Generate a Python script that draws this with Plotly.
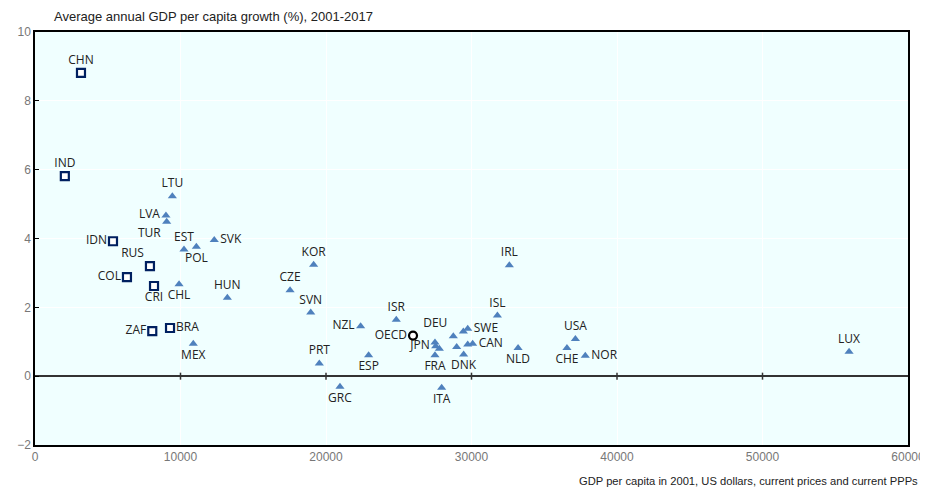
import plotly.graph_objects as go

# Emerging economies (squares)
emg_codes = ["CHN", "IND", "IDN", "RUS", "COL", "CRI", "ZAF", "BRA"]
emg_gdp = [3160, 2050, 5360, 7900, 6320, 8180, 8060, 9280]
emg_growth = [8.81, 5.81, 3.92, 3.20, 2.88, 2.62, 1.31, 1.40]
emg_pos = ["top center", "top center", "middle left", "top left", "middle left",
           "bottom center", "middle left", "middle right"]

# OECD countries (triangles)
oecd_codes = ["LTU", "LVA", "TUR", "EST", "POL", "SVK", "CHL", "HUN", "MEX",
              "KOR", "CZE", "SVN", "NZL", "ISR", "PRT", "ESP", "GRC", "ITA",
              "DEU", "AUS", "SWE", "GBR", "JPN", "FIN", "FRA", "BEL", "DNK",
              "AUT", "CAN", "NLD", "IRL", "ISL", "CHE", "USA", "NOR", "LUX"]
oecd_gdp = [9440, 9000, 9050, 10240, 11090, 12320, 9900, 13220, 10880,
            19150, 17530, 18950, 22380, 24830, 19540, 22930, 20960, 27950,
            28750, 29440, 29740, 27490, 27540, 27790, 27490, 28980, 29460,
            29740, 30080, 33200, 32600, 31780, 36560, 37140, 37820, 55950]
oecd_growth = [5.23, 4.67, 4.49, 3.68, 3.76, 3.96, 2.67, 2.28, 0.94,
               3.24, 2.50, 1.85, 1.45, 1.64, 0.37, 0.61, -0.31, -0.34,
               1.16, 1.30, 1.38, 0.98, 0.87, 0.80, 0.61, 0.85, 0.63,
               0.92, 0.94, 0.82, 3.22, 1.76, 0.82, 1.08, 0.59, 0.71]
oecd_labels = ["LTU", "LVA", "TUR", "EST", "POL", "SVK", "CHL", "HUN", "MEX",
               "KOR", "CZE", "SVN", "NZL", "ISR", "PRT", "ESP", "GRC", "ITA",
               "DEU", "", "SWE", "", "JPN", "", "FRA", "", "DNK",
               "", "CAN", "NLD", "IRL", "ISL", "CHE", "USA", "NOR", "LUX"]
oecd_pos = ["top center", "middle left", "bottom left", "top center", "bottom center",
            "middle right", "bottom center", "top center", "bottom center",
            "top center", "top center", "top center", "middle left", "top center",
            "top center", "bottom center", "bottom center", "bottom center",
            "top left", "top center", "middle right", "top center", "middle left",
            "top center", "bottom center", "top center", "bottom center",
            "top center", "middle right", "bottom center", "top center", "top center",
            "bottom center", "top center", "middle right", "top center"]

# OECD average (circle)
avg_label = ["OECD"]
avg_gdp = [25980]
avg_growth = [1.18]

# x-axis tick positions (also marked on the zero line)
x_ticks = [0, 10000, 20000, 30000, 40000, 50000, 60000]

label_font = dict(family="Open Sans, Noto Sans, sans-serif", size=12, color="#222222")

fig = go.Figure()
# small tick marks on the zero line
fig.add_trace(go.Scatter(
    x=x_ticks[1:-1], y=[0] * (len(x_ticks) - 2), mode="markers",
    marker=dict(symbol="line-ns", size=5, line=dict(color="#333333", width=1.5)),
    hoverinfo="skip", showlegend=False))
fig.add_trace(go.Scatter(
    x=oecd_gdp, y=oecd_growth, mode="markers+text", text=oecd_labels,
    textposition=oecd_pos, textfont=label_font, cliponaxis=False,
    marker=dict(symbol="triangle-up", size=8, color="#4F81BD"),
    showlegend=False, hovertext=oecd_codes))
fig.add_trace(go.Scatter(
    x=emg_gdp, y=emg_growth, mode="markers+text", text=emg_codes,
    textposition=emg_pos, textfont=label_font, cliponaxis=False,
    marker=dict(symbol="square", size=8, color="white",
                line=dict(color="#002060", width=2.2)),
    showlegend=False))
fig.add_trace(go.Scatter(
    x=avg_gdp, y=avg_growth, mode="markers+text", text=avg_label,
    textposition="middle left", textfont=label_font, cliponaxis=False,
    marker=dict(symbol="circle", size=8, color="white",
                line=dict(color="black", width=2.2)),
    showlegend=False))

axis_font = dict(family="Liberation Sans, Arial, sans-serif", size=12, color="#777777")

fig.update_layout(
    width=920, height=479,
    margin=dict(l=27, r=20, t=24, b=42, autoexpand=False),
    paper_bgcolor="white",
    plot_bgcolor="#F0FFFF",
    xaxis=dict(range=[0, 60000], tickvals=x_ticks, tickfont=axis_font, automargin=False,
               ticklabeloverflow="allow",
               showgrid=True, gridcolor="white", gridwidth=1,
               zeroline=False, showline=True, linecolor="black", linewidth=1.5,
               mirror=True, ticks="", tickformat="d"),
    yaxis=dict(range=[-2, 10], dtick=2, tickfont=axis_font, automargin=False,
               showgrid=True, gridcolor="white", gridwidth=1,
               zeroline=True, zerolinecolor="#333333", zerolinewidth=2,
               showline=True, linecolor="black", linewidth=1.5, mirror=True,
               ticks="inside", ticklen=4, tickcolor="black"),
    annotations=[
        dict(text="Average annual GDP per capita growth (%), 2001-2017",
             xref="paper", yref="paper", x=0, xshift=17, y=1.0, yshift=16,
             xanchor="left", yanchor="middle", showarrow=False,
             font=dict(family="Liberation Sans, Arial, sans-serif", size=13, color="#222222")),
        dict(text="GDP per capita in 2001, US dollars, current prices and current PPPs",
             xref="paper", yref="paper", x=1.0, xshift=12, y=0, yshift=-36,
             xanchor="right", yanchor="middle", showarrow=False,
             font=dict(family="Liberation Sans, Arial, sans-serif", size=11.2, color="#222222")),
    ],
)

fig.write_html("out.html")
